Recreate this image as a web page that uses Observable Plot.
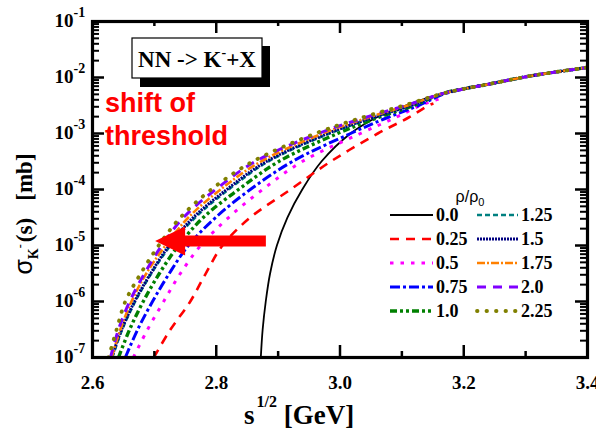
<!DOCTYPE html>
<html><head><meta charset="utf-8">
<script src="https://cdn.jsdelivr.net/npm/d3@7"></script>
<script src="https://cdn.jsdelivr.net/npm/@observablehq/plot@0.6"></script>
<style>body{margin:0;background:#fff}#chart{width:596px;height:430px}</style>
</head><body><div id="chart"></div>
<script>
// ---- data ----
// cross-section levels (mb) at which each curve's sqrt(s) was read
const sigmaLevels = [1e-7, 3.16e-7, 1e-6, 3.16e-6, 1e-5, 3.16e-5, 1e-4, 3.16e-4, 1e-3, 1.93e-3, 3.16e-3, 5.2e-3];
const rhoLabels = ["0.0","0.25","0.5","0.75","1.0","1.25","1.5","1.75","2.0","2.25"];
const sqrtS_000 = [2.872,2.875,2.880,2.887,2.898,2.915,2.939,2.970,3.017,3.059,3.106,3.167];
const sqrtS_025 = [2.699,2.726,2.758,2.783,2.810,2.855,2.920,2.985,3.061,3.111,3.143];
const sqrtS_050 = [2.666,2.689,2.715,2.742,2.775,2.820,2.875,2.939,3.033,3.090,3.130];
const sqrtS_075 = [2.653,2.673,2.697,2.724,2.755,2.799,2.855,2.923,3.017,3.077,3.127,3.171];
const sqrtS_100 = [2.642,2.660,2.682,2.708,2.739,2.779,2.836,2.901,2.996,3.062,3.119,3.167];
const sqrtS_125 = [2.632,2.648,2.669,2.695,2.726,2.766,2.820,2.884,2.983,3.054,3.114,3.167];
const sqrtS_150 = [2.631,2.647,2.668,2.694,2.724,2.763,2.817,2.881,2.980,3.053,3.114,3.167];
const sqrtS_175 = [2.631,2.645,2.663,2.687,2.718,2.755,2.807,2.872,2.972,3.046,3.109,3.167];
const sqrtS_200 = [2.629,2.642,2.660,2.684,2.712,2.747,2.799,2.863,2.965,3.041,3.106,3.167];
const sqrtS_225 = [2.626,2.639,2.653,2.678,2.707,2.742,2.792,2.859,2.960,3.036,3.103,3.167];
// last points of the 0.25 and 0.5 curves
const endSqrtS = [3.151, 3.162];
const endSigma = [3.44e-3, 4.2e-3];
// common high-energy part shared by the other curves
const tailSqrtS = [3.24, 3.313, 3.4];
const tailSigma = [7.6e-3, 1.09e-2, 1.51e-2];
// axis ticks
const xTickValues = [2.6, 2.8, 3.0, 3.2, 3.4];
const xTickLabels = ["2.6", "2.8", "3.0", "3.2", "3.4"];
const yDecades = [1e-7, 1e-6, 1e-5, 1e-4, 1e-3, 1e-2, 1e-1];
const yExponents = ["-7", "-6", "-5", "-4", "-3", "-2", "-1"];

// ---- styles ----
const colors = ["#000000","#ff0000","#ff00ff","#0000ff","#008000","#008080","#000080","#ff8000","#8000ff","#808000"];
const dashes = ["none","9,7","3.5,7","10,3,3,3","7,3,3,3,3,3","5,3","2,1","8,2,2,2","9,7","0.5,9"];
const widths = [1.8, 2.6, 3, 3, 3.4, 2.6, 3, 2.6, 3, 3.8];
const caps = ["butt","butt","butt","butt","butt","butt","butt","butt","butt","round"];

const sArrays = [sqrtS_000, sqrtS_025, sqrtS_050, sqrtS_075, sqrtS_100, sqrtS_125, sqrtS_150, sqrtS_175, sqrtS_200, sqrtS_225];
const series = sArrays.map((arr, i) => {
  const pts = arr.map((s, j) => ({s, sigma: sigmaLevels[j]}));
  if (i === 1 || i === 2) pts.push({s: endSqrtS[i - 1], sigma: endSigma[i - 1]});
  else tailSqrtS.forEach((s, j) => pts.push({s, sigma: tailSigma[j]}));
  return pts;
});

const W = 596, H = 430, mL = 92, mR = 9, mT = 21, mB = 73;
const innerH = H - mT - mB, innerW = W - mL - mR;

const xMinor = [2.7, 2.9, 3.1, 3.3];
const xMajorIn = [2.8, 3.0, 3.2];
const yMinor = [];
for (let e = -7; e < -1; e++) for (let k = 2; k <= 9; k++) yMinor.push(k * Math.pow(10, e));
const yMajorIn = [1e-6, 1e-5, 1e-4, 1e-3, 1e-2];

const serif = "'Liberation Serif', 'Times New Roman', serif";
const sans = "'Liberation Sans', Arial, sans-serif";

const marks = [];
series.forEach((pts, i) => {
  marks.push(Plot.line(pts, {x: "s", y: "sigma", stroke: colors[i], strokeWidth: widths[i],
    strokeDasharray: dashes[i], strokeLinecap: caps[i], curve: "catmull-rom", clip: true}));
});
// inward ticks on the four sides
marks.push(Plot.ruleX(xMajorIn, {stroke: "black", strokeWidth: 2.5, insetTop: innerH - 12}));
marks.push(Plot.ruleX(xMinor, {stroke: "black", strokeWidth: 2.5, insetTop: innerH - 6}));
marks.push(Plot.ruleX(xMajorIn, {stroke: "black", strokeWidth: 2.5, insetBottom: innerH - 12}));
marks.push(Plot.ruleX(xMinor, {stroke: "black", strokeWidth: 2.5, insetBottom: innerH - 5}));
marks.push(Plot.ruleY(yMajorIn, {stroke: "black", strokeWidth: 2.5, insetRight: innerW - 12}));
marks.push(Plot.ruleY(yMinor, {stroke: "black", strokeWidth: 2, insetRight: innerW - 7}));
marks.push(Plot.ruleY(yMajorIn, {stroke: "black", strokeWidth: 2.5, insetLeft: innerW - 12}));
marks.push(Plot.ruleY(yMinor, {stroke: "black", strokeWidth: 2, insetLeft: innerW - 7}));
marks.push(Plot.frame({stroke: "black", strokeWidth: 3.2}));
// tick labels
marks.push(Plot.text(xTickValues, {x: d => d, y: () => 1e-7, text: (d, i) => xTickLabels[i], dy: 25,
  fontSize: 19, fontWeight: "bold", fontFamily: serif, fill: "black"}));
marks.push(Plot.text(yDecades, {x: () => 2.6, y: d => d, text: () => "10", dx: -19, dy: -1, textAnchor: "end",
  fontSize: 19, fontWeight: "bold", fontFamily: serif, fill: "black"}));
marks.push(Plot.text(yDecades, {x: () => 2.6, y: d => d, text: (d, i) => yExponents[i], dx: -19, dy: -9, textAnchor: "start",
  fontSize: 14, fontWeight: "bold", fontFamily: serif, fill: "black"}));

const plot = Plot.plot({
  width: W, height: H, marginLeft: mL, marginRight: mR, marginTop: mT, marginBottom: mB,
  x: {domain: [2.6, 3.4], axis: null},
  y: {type: "log", domain: [1e-7, 1e-1], axis: null},
  style: {background: "white", overflow: "visible"},
  marks
});
document.getElementById("chart").appendChild(plot);

const svg = d3.select(plot);
const xs = plot.scale("x"), ys = plot.scale("y");

// arrow "shift of threshold"
const ax0 = xs.apply(2.881), ax1 = xs.apply(2.702), ay = ys.apply(1.18e-5);
const headLen = 30, headHalf = 14.5, bodyHalf = 5.5;
svg.append("path")
  .attr("d", `M${ax0},${ay - bodyHalf} L${ax1 + headLen},${ay - bodyHalf} L${ax1 + headLen},${ay - headHalf} L${ax1},${ay} L${ax1 + headLen},${ay + headHalf} L${ax1 + headLen},${ay + bodyHalf} L${ax0},${ay + bodyHalf} Z`)
  .attr("fill", "#ff0000");

// title box with shadow
svg.append("rect").attr("x", 140).attr("y", 46).attr("width", 130).attr("height", 41).attr("fill", "black");
svg.append("rect").attr("x", 132).attr("y", 38).attr("width", 130).attr("height", 40).attr("fill", "white").attr("stroke", "black").attr("stroke-width", 1.2);
const tt = svg.append("text").attr("x", 197).attr("y", 67).attr("text-anchor", "middle")
  .attr("font-family", serif).attr("font-weight", "bold").attr("font-size", 23).attr("fill", "black");
tt.append("tspan").text("NN -> K");
tt.append("tspan").attr("font-size", 14).attr("dy", -10).text("-");
tt.append("tspan").attr("dy", 10).text("+X");

// red annotation
const ann = svg.append("text").attr("text-anchor", "start").attr("font-family", sans).attr("font-weight", "bold").attr("font-size", 27).attr("fill", "#ff0000");
ann.append("tspan").attr("x", 105).attr("y", 112).text("shift of");
ann.append("tspan").attr("x", 105).attr("y", 145).text("threshold");

// x-axis title
const xt = svg.append("text").attr("x", 244).attr("y", 424).attr("text-anchor", "start")
  .attr("font-family", serif).attr("font-weight", "bold").attr("font-size", 27).attr("fill", "black");
xt.append("tspan").text("s");
xt.append("tspan").attr("font-size", 16).attr("dx", 2).attr("dy", -17).text("1/2");
xt.append("tspan").attr("dy", 17).text(" [GeV]");

// y-axis title
const yt = svg.append("text").attr("transform", "translate(32,214) rotate(-90)").attr("text-anchor", "middle")
  .attr("font-family", serif).attr("font-weight", "bold").attr("font-size", 23).attr("fill", "black");
yt.append("tspan").attr("font-family", sans).attr("font-weight", "normal").attr("font-size", 25).text("σ");
yt.append("tspan").attr("font-size", 14).attr("dy", 6).text("K");
yt.append("tspan").attr("font-size", 12).attr("dy", -14).text("-");
yt.append("tspan").attr("dy", 8).attr("dx", 2).text("(s)\u00a0\u00a0\u00a0[mb]");

// legend
const lg = svg.append("g");
const lt = lg.append("text").attr("x", 470).attr("y", 202).attr("text-anchor", "middle")
  .attr("font-family", sans).attr("font-size", 16).attr("fill", "black");
lt.append("tspan").text("ρ/ρ");
lt.append("tspan").attr("font-size", 11).attr("dy", 4).text("0");
rhoLabels.forEach((lab, i) => {
  const col = i < 5 ? 0 : 1, row = i % 5;
  const x0 = col === 0 ? 390 : 477, x1 = col === 0 ? 433 : 518;
  const y = 215 + row * 24;
  lg.append("line").attr("x1", x0).attr("x2", x1).attr("y1", y).attr("y2", y)
    .attr("stroke", colors[i]).attr("stroke-width", widths[i]).attr("stroke-dasharray", dashes[i])
    .attr("stroke-linecap", caps[i]);
  lg.append("text").attr("x", x1 + 3).attr("y", y + 6).attr("text-anchor", "start").attr("font-family", serif).attr("font-weight", "bold")
    .attr("font-size", 18).attr("fill", "black").text(lab);
});
</script></body></html>
